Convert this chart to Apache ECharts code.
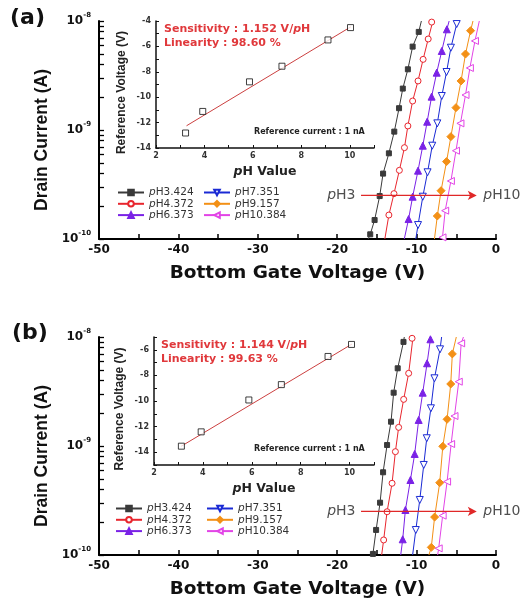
<!DOCTYPE html>
<html><head><meta charset="utf-8">
<script src="https://cdn.jsdelivr.net/npm/echarts@6/dist/echarts.min.js"></script>
<style>html,body{margin:0;padding:0;background:#fff}#c{width:529px;height:603px}</style>
</head><body><div id="c"></div>
<script>
// ---------- DATA ----------
const seriesNames = ['pH3.424', 'pH4.372', 'pH6.373', 'pH7.351', 'pH9.157', 'pH10.384'];

// Panel (a): marker points [bottom gate voltage (V), log10 drain current (A)]
const aPH3424 = [[-9.73,-8.10],[-10.5,-8.235],[-11.1,-8.443],[-11.74,-8.62],[-12.21,-8.80],[-12.81,-9.015],[-13.49,-9.214],[-14.22,-9.40],[-14.65,-9.606],[-15.29,-9.826],[-15.84,-9.957]];
const aPH4372 = [[-8.1,-8.01],[-8.54,-8.165],[-9.18,-8.352],[-9.82,-8.55],[-10.5,-8.734],[-11.1,-8.963],[-11.53,-9.162],[-12.17,-9.37],[-12.85,-9.584],[-13.49,-9.78]];
const aPH6373 = [[-6.19,-8.076],[-6.83,-8.275],[-7.47,-8.474],[-8.11,-8.694],[-8.67,-8.924],[-9.22,-9.144],[-9.82,-9.373],[-10.5,-9.612],[-11.01,-9.817]];
const aPH7351 = [[-4.95,-8.028],[-5.68,-8.245],[-6.23,-8.468],[-6.83,-8.688],[-7.39,-8.939],[-8.03,-9.144],[-8.62,-9.388],[-9.22,-9.612],[-9.82,-9.872]];
const aPH9157 = [[-3.2,-8.089],[-3.84,-8.303],[-4.4,-8.55],[-5.04,-8.795],[-5.68,-9.061],[-6.23,-9.29],[-6.92,-9.557],[-7.39,-9.789]];
const aPH10384 = [[-2.65,-8.183],[-3.29,-8.431],[-3.84,-8.679],[-4.48,-8.939],[-5.04,-9.19],[-5.68,-9.468],[-6.4,-9.74],[-6.74,-9.985]];
const aTopV = [-9.4, -7.95, -5.9, -4.8, -2.9, -2.1];      // voltage where curve reaches 1e-8 A
const aBottomV = [-16.1, -14.0, -11.55, -10.1, -7.75, -6.85]; // voltage where curve reaches 1e-10 A

// Panel (b)
const bPH3424 = [[-11.65,-8.045],[-12.38,-8.287],[-12.89,-8.511],[-13.22,-8.777],[-13.72,-8.991],[-14.22,-9.241],[-14.6,-9.52],[-15.1,-9.77],[-15.5,-9.99]];
const bPH4372 = [[-10.57,-8.012],[-11.0,-8.333],[-11.63,-8.572],[-12.26,-8.829],[-12.67,-9.052],[-13.09,-9.342],[-13.72,-9.603],[-14.15,-9.862]];
const bPH6373 = [[-8.26,-8.021],[-8.68,-8.241],[-9.23,-8.511],[-9.74,-8.761],[-10.24,-9.073],[-10.78,-9.312],[-11.41,-9.587],[-11.75,-9.856]];
const bPH7351 = [[-7.05,-8.113],[-7.75,-8.379],[-8.2,-8.654],[-8.72,-8.929],[-9.1,-9.174],[-9.6,-9.495],[-10.1,-9.771]];
const bPH9157 = [[-5.5,-8.155],[-5.7,-8.431],[-6.16,-8.755],[-6.7,-9.003],[-7.09,-9.337],[-7.73,-9.652],[-8.15,-9.93]];
const bPH10384 = [[-4.39,-8.058],[-4.69,-8.41],[-5.23,-8.725],[-5.65,-8.982],[-6.16,-9.327],[-6.72,-9.639],[-7.22,-9.939]];
const bTopV = [-11.55, -10.45, -8.2, -6.85, -5.0, -4.1];
const bBottomV = [-15.6, -14.4, -12.0, -10.5, -8.45, -7.35];

// Insets: pH value vs reference voltage (V)
const insetA_pH = [3.22, 3.93, 5.86, 7.2, 9.1, 10.03];
const insetA_V = [-12.82, -11.12, -8.79, -7.56, -5.49, -4.52];
const insetA_fit = [[3.26, -12.25], [10.05, -4.45]];
const insetB_pH = [3.12, 3.93, 5.88, 7.21, 9.12, 10.08];
const insetB_V = [-13.53, -12.41, -9.92, -8.72, -6.52, -5.58];
const insetB_fit = [[3.1, -13.55], [10.1, -5.55]];

// pH3 -> pH10 arrows
const arrowA = [[-17.0, -9.6], [-2.8, -9.6]];
const arrowB = [[-17.0, -9.6], [-2.8, -9.6]];

const sensA = 'Sensitivity : 1.152 V/', linA = 'Linearity : 98.60 %';
const sensB = 'Sensitivity : 1.144 V/', linB = 'Linearity : 99.63 %';
const refCurrent = 'Reference current : 1 nA';

// log decades of drain current axis
const decades = [-10, -9, -8];

// ---------- STYLE ----------
const HF = 'DejaVu Sans';
const VF = 'Liberation Sans';
const styles = [
  {color:'#3a3a3a', symbol:'rect', fill:'#3a3a3a', size:5, rotate:0},
  {color:'#e8262e', symbol:'circle', fill:'#ffffff', size:6, rotate:0},
  {color:'#7a22e6', symbol:'triangle', fill:'#7a22e6', size:7, rotate:0},
  {color:'#1a2ad4', symbol:'triangle', fill:'#ffffff', size:7, rotate:180},
  {color:'#f39016', symbol:'diamond', fill:'#f39016', size:8, rotate:0},
  {color:'#e244e6', symbol:'triangle', fill:'#ffffff', size:7, rotate:90}
];
// tick positions: decades plus log-spaced minor ticks
const logTicks = [];
decades.forEach((d, j) => {
  logTicks.push(d);
  if (j < decades.length - 1) for (let k = 2; k <= 9; k++) logTicks.push(d + Math.log10(k));
});

function curve(pts, top, bottom, i, gi) {
  const s = styles[i];
  const data = [{value:[top, decades[2]], symbol:'none'}]
    .concat(pts.map(p => ({value:p})))
    .concat([{value:[bottom, decades[0]], symbol:'none'}]);
  return {
    type:'line', name: seriesNames[i], xAxisIndex: gi, yAxisIndex: gi, data,
    symbol: s.symbol, symbolSize: s.size, symbolRotate: s.rotate, showAllSymbol: true,
    lineStyle:{color:s.color, width:1},
    itemStyle:{color:s.fill, borderColor:s.color, borderWidth:1},
    animation:false, z:3
  };
}

function mainX(gi) {
  return {gridIndex:gi, type:'value', min:-50, max:0, interval:10,
    axisLine:{show:true, onZero:false, lineStyle:{color:'#000', width:2}},
    axisTick:{show:true, inside:true, length:5, lineStyle:{color:'#000', width:1.5}},
    minorTick:{show:true, splitNumber:2, length:5, lineStyle:{color:'#000', width:1.5}},
    splitLine:{show:false},
    axisLabel:{margin:5, fontFamily:HF, fontWeight:'bold', fontSize:12, color:'#111'},
    name:'Bottom Gate Voltage (V)', nameLocation:'middle', nameGap:25,
    nameTextStyle:{fontFamily:HF, fontWeight:'bold', fontSize:18.5, color:'#111'}};
}
function mainY(gi) {
  return {gridIndex:gi, type:'value', min:decades[0], max:decades[2], interval:1,
    axisLine:{show:true, onZero:false, lineStyle:{color:'#000', width:2}},
    axisTick:{show:true, inside:true, length:5, customValues:logTicks, lineStyle:{color:'#000', width:1.3}},
    splitLine:{show:false},
    axisLabel:{margin:8, formatter: v => '{b|10}{s|' + v + '}',
      rich:{b:{fontFamily:HF, fontWeight:'bold', fontSize:12, color:'#111', lineHeight:18},
            s:{fontFamily:HF, fontWeight:'bold', fontSize:7, color:'#111', verticalAlign:'top', lineHeight:10}}},
    name:'Drain Current (A)', nameLocation:'middle', nameGap:47, nameRotate:90,
    nameTextStyle:{fontFamily:VF, fontWeight:'bold', fontSize:17.5, color:'#111', padding:[0,20,0,0]}};
}
function insetX(gi) {
  return {gridIndex:gi, type:'value', min:2, max:11, interval:1,
    axisLine:{show:true, onZero:false, lineStyle:{color:'#111', width:1.5}},
    axisTick:{show:true, inside:true, length:3, lineStyle:{color:'#111', width:1}},
    splitLine:{show:false},
    axisLabel:{margin:4, formatter: v => (v % 2 === 0 ? String(v) : ''), fontFamily:HF, fontWeight:'bold', fontSize:8, color:'#333'},
    name:'{i|p}{n|H Value}', nameLocation:'middle', nameGap:17,
    nameTextStyle:{rich:{i:{fontFamily:HF, fontWeight:'bold', fontStyle:'italic', fontSize:12.5, color:'#222'},
                         n:{fontFamily:HF, fontWeight:'bold', fontSize:12.5, color:'#222'}}}};
}
function insetY(gi, min, max) {
  return {gridIndex:gi, type:'value', min, max, interval:1,
    axisLine:{show:true, onZero:false, lineStyle:{color:'#111', width:1.5}},
    axisTick:{show:true, inside:true, length:3, lineStyle:{color:'#111', width:1}},
    splitLine:{show:false},
    axisLabel:{margin:5, formatter: v => (v % 2 === 0 ? String(v) : ''), fontFamily:HF, fontWeight:'bold', fontSize:8, color:'#333'},
    name:'Reference Voltage (V)', nameLocation:'middle', nameGap:28, nameRotate:90,
    nameTextStyle:{fontFamily:VF, fontWeight:'bold', fontSize:12, color:'#222', padding:[0,16,0,0]}};
}
function insetSeries(gi, ph, v, fit) {
  return [
    {type:'line', xAxisIndex:gi, yAxisIndex:gi, data:fit, symbol:'none', lineStyle:{color:'#cc4040', width:1}, animation:false, z:2},
    {type:'scatter', xAxisIndex:gi, yAxisIndex:gi, data:ph.map((p, i) => [p, v[i]]), symbol:'rect', symbolSize:6,
     itemStyle:{color:'#fff', borderColor:'#111', borderWidth:1}, animation:false, z:3}
  ];
}
function arrowSeries(gi, arr) {
  const rich = {i:{fontFamily:HF, fontStyle:'italic', fontSize:14, color:'#222'}, n:{fontFamily:HF, fontSize:14, color:'#222'}};
  return [
    {type:'line', xAxisIndex:gi, yAxisIndex:gi, animation:false, z:4,
     lineStyle:{color:'#e02828', width:1.2},
     itemStyle:{color:'#e02828', borderWidth:0},
     data:[
       {value:arr[0], symbol:'none'},
       {value:arr[1], symbol:'arrow', symbolSize:[7,9], symbolRotate:-90, symbolOffset:[3,0]}
     ]},
    {type:'scatter', xAxisIndex:gi, yAxisIndex:gi, symbolSize:1, itemStyle:{color:'rgba(0,0,0,0)'}, animation:false,
     label:{rich},
     data:[{value:arr[0], label:{show:true, position:'left', distance:5, formatter:'{i|p}{n|H3}'}},
           {value:arr[1], label:{show:true, position:'right', distance:9, formatter:'{i|p}{n|H10}'}}]}
  ];
}
const legRich = {i:{fontFamily:HF, fontStyle:'italic', fontSize:10.5, color:'#333', lineHeight:12},
                 n:{fontFamily:HF, fontSize:10.5, color:'#333', lineHeight:12}};
function legend(left, top, names) {
  return {left, top, orient:'vertical', padding:0, itemGap:0.3, itemWidth:26, itemHeight:7, selectedMode:false,
    data:names, formatter: n => '{i|p}{n|' + n.slice(1) + '}', textStyle:{rich:legRich}};
}
const redRich = {r:{fontFamily:HF, fontWeight:'bold', fontSize:11, color:'#e0383b'},
                 ri:{fontFamily:HF, fontWeight:'bold', fontStyle:'italic', fontSize:11, color:'#e0383b'}};
function insetTexts(left, top, sens, lin, refLeft, refTop) {
  return [
    {text:'{r|' + sens + '}{ri|p}{r|H}', left, top, padding:0, textStyle:{rich:redRich}},
    {text:'{r|' + lin + '}', left, top: top + 13.7, padding:0, textStyle:{rich:redRich}},
    {text:refCurrent, left:refLeft, top:refTop, padding:0, textStyle:{fontFamily:HF, fontWeight:'bold', fontSize:8, color:'#222'}}
  ];
}

const aSets = [aPH3424, aPH4372, aPH6373, aPH7351, aPH9157, aPH10384];
const bSets = [bPH3424, bPH4372, bPH6373, bPH7351, bPH9157, bPH10384];

const option = {
  backgroundColor:'#fff',
  animation:false,
  grid:[
    {left:99, top:21, width:397, height:218},
    {left:156, top:21, width:218, height:127},
    {left:99, top:337, width:397, height:218},
    {left:154, top:337, width:220, height:128}
  ],
  xAxis:[mainX(0), insetX(1), mainX(2), insetX(3)],
  yAxis:[mainY(0), insetY(1, -14, -4), mainY(2), insetY(3, -15, -5)],
  title:[
    {text:'(a)', left:10, top:7, padding:0, textStyle:{fontFamily:HF, fontWeight:'bold', fontSize:22, color:'#111'}},
    {text:'(b)', left:12, top:322, padding:0, textStyle:{fontFamily:HF, fontWeight:'bold', fontSize:22, color:'#111'}}
  ].concat(insetTexts(164, 24, sensA, linA, 254, 128), insetTexts(161, 340, sensB, linB, 254, 445)),
  legend:[
    legend(117, 187, seriesNames.slice(0, 3)), legend(203, 187, seriesNames.slice(3)),
    legend(115, 503, seriesNames.slice(0, 3)), legend(206, 503, seriesNames.slice(3))
  ],
  series: [].concat(
    aSets.map((d, i) => curve(d, aTopV[i], aBottomV[i], i, 0)),
    bSets.map((d, i) => curve(d, bTopV[i], bBottomV[i], i, 2)),
    insetSeries(1, insetA_pH, insetA_V, insetA_fit),
    insetSeries(3, insetB_pH, insetB_V, insetB_fit),
    arrowSeries(0, arrowA),
    arrowSeries(2, arrowB)
  )
};
const chart = echarts.init(document.getElementById('c'), null, {renderer:'canvas'});
chart.setOption(option);
</script>
</body></html>
